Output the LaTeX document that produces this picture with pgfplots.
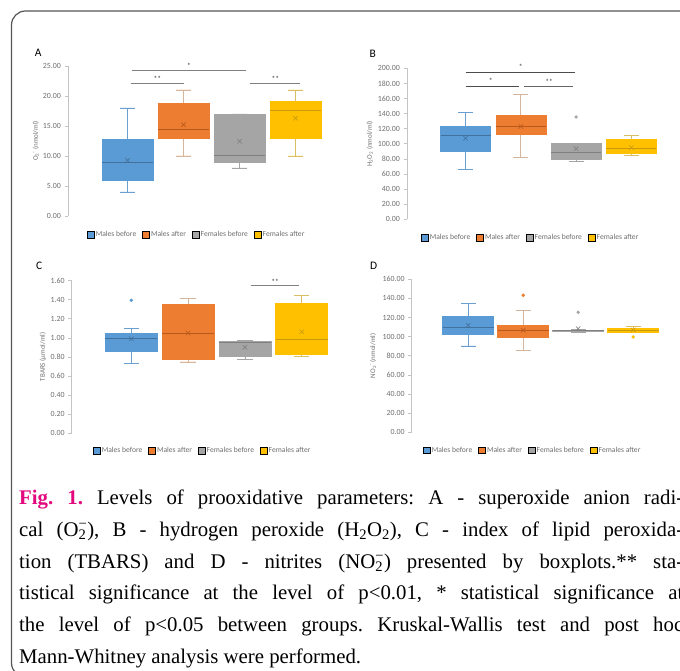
\documentclass[border=0pt]{standalone}
\usepackage{fontspec}
\setmainfont{Liberation Serif}
\newfontfamily\calibri{Carlito}
\usepackage{pgfplots}
\pgfplotsset{compat=1.18}
\usepgfplotslibrary{statistics}

\definecolor{cB}{HTML}{5B9BD5}\definecolor{cBd}{HTML}{41719C}\definecolor{cBw}{HTML}{6A9FCF}
\definecolor{cO}{HTML}{ED7D31}\definecolor{cOd}{HTML}{B8581B}\definecolor{cOw}{HTML}{D6B59D}
\definecolor{cG}{HTML}{A5A5A5}\definecolor{cGd}{HTML}{7F7F7F}\definecolor{cGw}{HTML}{A5A5A5}
\definecolor{cY}{HTML}{FFC000}\definecolor{cYd}{HTML}{C99A10}\definecolor{cYw}{HTML}{D9BE62}
\definecolor{txtgray}{HTML}{6E6E6E}
\definecolor{axisgray}{HTML}{C4C4C4}
\definecolor{figpink}{HTML}{E4087E}
\definecolor{framegray}{HTML}{555555}

\pgfplotsset{
  panel/.style={
    scale only axis, clip=false,
    boxplot/draw direction=y,
    axis x line=none, axis y line=left,
    y axis line style={-, draw=axisgray, line width=0.6pt},
    ymin=0, xtick=\empty,
    tick align=outside, major tick length=3.5pt,
    ytick style={draw=axisgray, line width=0.6pt},
    yticklabel style={font=\calibri\fontsize{7.9}{9}\selectfont, text=txtgray,
      /pgf/number format/.cd, fixed, fixed zerofill, precision=2, assume math mode=true},
    ylabel style={font=\calibri\fontsize{7}{8}\selectfont, text=txtgray, anchor=center},
    legend columns=4,
    legend style={draw=none, fill=none, anchor=center,
      font=\calibri\fontsize{7.6}{9}\selectfont, text=txtgray,
      nodes={inner sep=1.5pt},
      /tikz/every even column/.append style={column sep=4.5pt}},
    legend image code/.code={\fill[##1] (0pt,-3.3pt) rectangle (6.8pt,3.5pt);},
  },
  meanx/.style={boxplot/draw/average/.code={%
    \draw[#1, line width=0.5pt] (boxplot box cs:\pgfplotsboxplotvalue{average},0.5)
      +(-2.2pt,-2.2pt) -- +(2.2pt,2.2pt) +(-2.2pt,2.2pt) -- +(2.2pt,-2.2pt);}},
  bxB/.style={draw=cB, fill=cB, line width=0.6pt, mark=*, mark size=1.4pt,
    mark options={draw=cB, fill=cB}, meanx=cBd,
    boxplot/every whisker/.style={draw=cBw, line width=0.8pt},
    boxplot/every median/.style={draw=cBd, line width=0.7pt}},
  bxO/.style={draw=cO, fill=cO, line width=0.6pt, mark=*, mark size=1.4pt,
    mark options={draw=cO, fill=cO}, meanx=cOd,
    boxplot/every whisker/.style={draw=cOw, line width=0.8pt},
    boxplot/every median/.style={draw=cOd, line width=0.7pt}},
  bxG/.style={draw=cG, fill=cG, line width=0.6pt, mark=*, mark size=1.4pt,
    mark options={draw=cG, fill=cG}, meanx=cGd,
    boxplot/every whisker/.style={draw=cGw, line width=0.8pt},
    boxplot/every median/.style={draw=cGd, line width=0.7pt}},
  bxY/.style={draw=cY, fill=cY, line width=0.6pt, mark=*, mark size=1.4pt,
    mark options={draw=cY, fill=cY}, meanx=cYd,
    boxplot/every whisker/.style={draw=cYw, line width=0.8pt},
    boxplot/every median/.style={draw=cYd, line width=0.7pt}},
}

\newcommand{\legfour}{%
  \addlegendimage{fill=cB}\addlegendentry{Males before}
  \addlegendimage{fill=cO}\addlegendentry{Males after}
  \addlegendimage{fill=cG}\addlegendentry{Females before}
  \addlegendimage{fill=cY}\addlegendentry{Females after}}
\newcommand{\stars}[1]{{\calibri\fontsize{7.5}{8}\selectfont\color{black!80}#1}}

\begin{document}
\frenchspacing
\begin{tikzpicture}[x=1pt,y=1pt]
\useasboundingbox (0,0) rectangle (680,671);
\clip (0,0) rectangle (680,671);

% frame
\draw[framegray, line width=1.2pt, rounded corners=14pt] (11.5,-6) rectangle (720,660);

% panel letters
\node[font=\calibri\fontsize{11.5}{12}\selectfont] at (38.3,618) {A};
\node[font=\calibri\fontsize{11.5}{12}\selectfont] at (372.7,617.3) {B};
\node[font=\calibri\fontsize{11.5}{12}\selectfont] at (39.3,405.5) {C};
\node[font=\calibri\fontsize{11.5}{12}\selectfont] at (373.7,405) {D};

% ---------- A
\begin{axis}[panel, at={(68pt,455pt)}, anchor=south west,
  width=272pt, height=150pt, xmin=-0.0625, xmax=4.795, ymax=25, ytick={0,5,...,25},
  ylabel={O\textsubscript{2}\textsuperscript{-} (nmol/ml)},
  ylabel style={at={(axis description cs:-0.118,0.5)}},
  legend style={at={(axis cs:2.232,-3.17)}}]
\addplot[forget plot, bxB, boxplot prepared={draw position=1, lower whisker=4, lower quartile=6,
  median=8.9, upper quartile=12.8, upper whisker=18, average=9.3, box extend=0.91, whisker extend=0.27}] coordinates {};
\addplot[forget plot, bxO, boxplot prepared={draw position=2, lower whisker=10, lower quartile=13,
  median=14.4, upper quartile=18.8, upper whisker=21, average=15.2, box extend=0.91, whisker extend=0.27}] coordinates {};
\addplot[forget plot, bxG, boxplot prepared={draw position=3, lower whisker=8, lower quartile=9,
  median=10.05, upper quartile=17, upper whisker=17, average=12.45, box extend=0.91, whisker extend=0.27}] coordinates {};
\addplot[forget plot, bxY, boxplot prepared={draw position=4, lower whisker=10, lower quartile=13,
  median=17.6, upper quartile=19.1, upper whisker=21, average=16.3, box extend=0.91, whisker extend=0.27}] coordinates {};
\legfour
\draw[black!50, line width=0.9pt] (axis cs:1.08,24.3) -- (axis cs:3.12,24.3);
\draw[black!50, line width=0.9pt] (axis cs:1.06,22.1) -- (axis cs:2.01,22.1);
\draw[black!50, line width=0.9pt] (axis cs:3.19,22.1) -- (axis cs:4.08,22.1);
\node at (axis cs:2.1,25.1) {\stars{*}};
\node at (axis cs:1.535,22.9) {\stars{**}};
\node at (axis cs:3.64,22.9) {\stars{**}};
\end{axis}

% ---------- B
\begin{axis}[panel, at={(407pt,451.7pt)}, anchor=south west,
  width=273pt, height=151pt, xmin=-0.058, xmax=4.879, ymax=200, ytick={0,20,...,200},
  ylabel={H\textsubscript{2}O\textsubscript{2} (nmol/ml)},
  ylabel style={at={(axis description cs:-0.136,0.5)}},
  legend style={at={(axis cs:2.175,-24.8)}}]
\addplot[forget plot, bxB, boxplot prepared={draw position=1, lower whisker=66.2, lower quartile=90.1,
  median=111.3, upper quartile=123.6, upper whisker=141.7, average=107.3, box extend=0.904, whisker extend=0.27}] coordinates {};
\addplot[forget plot, bxO, boxplot prepared={draw position=2, lower whisker=82.5, lower quartile=112.6,
  median=123.6, upper quartile=137.2, upper whisker=165.6, average=123, box extend=0.904, whisker extend=0.27}] coordinates {};
\addplot[forget plot, bxG, boxplot prepared={draw position=3, lower whisker=77.2, lower quartile=78.9,
  median=88.7, upper quartile=100.7, upper whisker=100.7, average=93.5, box extend=0.904, whisker extend=0.27}]
  table[row sep=\\, y index=0] {data\\ 135.5\\};
\addplot[forget plot, bxY, boxplot prepared={draw position=4, lower whisker=84.8, lower quartile=87.4,
  median=94, upper quartile=106, upper whisker=110.7, average=94.9, box extend=0.904, whisker extend=0.27}] coordinates {};
\legfour
\draw[black!70, line width=0.9pt] (axis cs:1.0,194.7) -- (axis cs:2.98,194.7);
\draw[black!70, line width=0.9pt] (axis cs:1.0,176.2) -- (axis cs:1.97,176.2);
\draw[black!60, line width=0.9pt] (axis cs:2.06,176.2) -- (axis cs:2.94,176.2);
\node at (axis cs:2.0,202) {\stars{*}};
\node at (axis cs:1.456,183) {\stars{*}};
\node at (axis cs:2.51,182) {\stars{**}};
\end{axis}

% ---------- C
\begin{axis}[panel, at={(71.7pt,238pt)}, anchor=south west,
  width=268.3pt, height=152.3pt, xmin=-0.049, xmax=4.674, ymax=1.6, ytick={0,0.2,...,1.6},
  ylabel={TBARS (µmol/ml)},
  ylabel style={at={(axis description cs:-0.107,0.5)}},
  legend style={at={(axis cs:2.254,-0.189)}}]
\addplot[forget plot, bxB, boxplot prepared={draw position=1, lower whisker=0.735, lower quartile=0.854,
  median=0.995, upper quartile=1.047, upper whisker=1.096, average=0.99, box extend=0.915, whisker extend=0.27}]
  table[row sep=\\, y index=0] {data\\ 1.394\\};
\addplot[forget plot, bxO, boxplot prepared={draw position=2, lower whisker=0.746, lower quartile=0.770,
  median=1.047, upper quartile=1.352, upper whisker=1.415, average=1.05, box extend=0.915, whisker extend=0.27}] coordinates {};
\addplot[forget plot, bxG, boxplot prepared={draw position=3, lower whisker=0.77, lower quartile=0.801,
  median=0.95, upper quartile=0.959, upper whisker=0.974, average=0.90, box extend=0.915, whisker extend=0.27}] coordinates {};
\addplot[forget plot, bxY, boxplot prepared={draw position=4, lower whisker=0.80, lower quartile=0.826,
  median=0.984, upper quartile=1.358, upper whisker=1.446, average=1.064, box extend=0.915, whisker extend=0.27}] coordinates {};
\legfour
\draw[black!50, line width=0.9pt] (axis cs:3.10,1.547) -- (axis cs:3.96,1.547);
\node at (axis cs:3.53,1.59) {\stars{**}};
\end{axis}

% ---------- D
\begin{axis}[panel, at={(411.7pt,238.7pt)}, anchor=south west,
  width=268.3pt, height=153pt, xmin=-0.027, xmax=4.851, ymax=160, ytick={0,20,...,160},
  ylabel={NO\textsubscript{2}\textsuperscript{-} (nmol/ml)},
  ylabel style={at={(axis description cs:-0.144,0.5)}},
  legend style={at={(axis cs:2.169,-18.8)}}]
\addplot[forget plot, bxB, boxplot prepared={draw position=1, lower whisker=90.3, lower quartile=102.5,
  median=109.8, upper quartile=121.7, upper whisker=134.5, average=111.9, box extend=0.927, whisker extend=0.27}] coordinates {};
\addplot[forget plot, bxO, boxplot prepared={draw position=2, lower whisker=85.4, lower quartile=99.7,
  median=106.7, upper quartile=111.5, upper whisker=127.2, average=106.7, box extend=0.927, whisker extend=0.27}]
  table[row sep=\\, y index=0] {data\\ 143.3\\};
\addplot[forget plot, bxG, boxplot prepared={draw position=3, lower whisker=104.5, lower quartile=105.2,
  median=106.3, upper quartile=107, upper whisker=107.5, average=108.4, box extend=0.927, whisker extend=0.27}]
  table[row sep=\\, y index=0] {data\\ 125.5\\};
\addplot[forget plot, bxY, boxplot prepared={draw position=4, lower whisker=104.5, lower quartile=104.9,
  median=106.7, upper quartile=108.4, upper whisker=110.5, average=107, box extend=0.927, whisker extend=0.27}]
  table[row sep=\\, y index=0] {data\\ 99.7\\};
\legfour
\end{axis}

% caption
\begin{scope}[every node/.style={anchor=base west, inner sep=0pt, font=\fontsize{20.8}{24}\selectfont}]
\node at (19,166.2) {\makebox[664pt][s]{{\bfseries\color{figpink}Fig. 1.} Levels of prooxidative parameters: A - superoxide anion radi-}};
\node at (19,134.5) {\makebox[664pt][s]{cal (O\rlap{\textsubscript{2}}\textsuperscript{−}), B - hydrogen peroxide (H\textsubscript{2}O\textsubscript{2}), C - index of lipid peroxida-}};
\node at (19,102.8) {\makebox[664pt][s]{tion (TBARS) and D - nitrites (NO\rlap{\textsubscript{2}}\textsuperscript{−}) presented by boxplots.** sta-}};
\node at (19,71.1) {\makebox[664pt][s]{tistical significance at the level of p<0.01, * statistical significance at}};
\node at (19,39.4) {\makebox[664pt][s]{the level of p<0.05 between groups. Kruskal-Wallis test and post hoc}};
\node at (19,7.7) {Mann-Whitney analysis were performed.};
\end{scope}
\end{tikzpicture}
\end{document}
